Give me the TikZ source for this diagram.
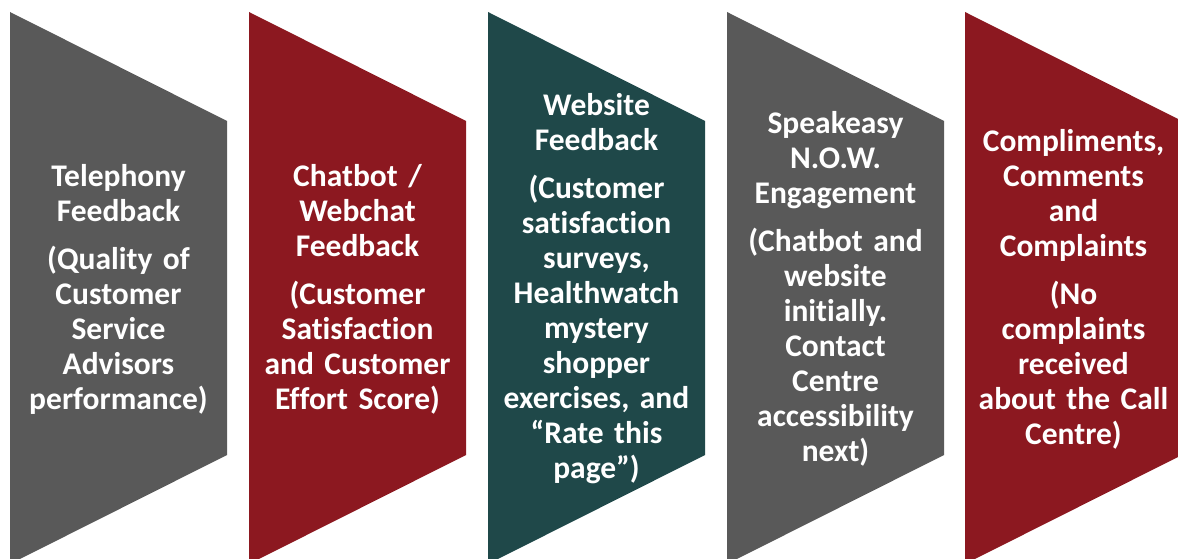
\documentclass[tikz,border=0pt]{standalone}
\usepackage{fontspec}
\setmainfont{Carlito}[WordSpace=0.8, Ligatures=NoCommon]
\begin{document}
\definecolor{slate}{HTML}{595959}
\definecolor{wine}{HTML}{8C1820}
\definecolor{teal}{HTML}{1F4849}
\tikzset{
  label/.style={text=white, font=\fontsize{31.5}{35}\selectfont\bfseries,
    align=center, inner sep=0pt, text width=217pt},
}
\begin{tikzpicture}[x=1pt,y=-1pt]
\useasboundingbox (0,0) rectangle (1178,559);
\clip (0,0) rectangle (1178,559);
% five point-right pentagons, each 217 wide
\fill[slate] (10,12)  -- ++(217,109) -- ++(0,334) -- (10,564)  -- cycle;
\fill[wine]  (249,12) -- ++(217,109) -- ++(0,334) -- (249,564) -- cycle;
\fill[teal]  (488,12) -- ++(217,109) -- ++(0,334) -- (488,564) -- cycle;
\fill[slate] (727,12) -- ++(217,109) -- ++(0,334) -- (727,564) -- cycle;
\fill[wine]  (965,12) -- ++(217,109) -- ++(0,334) -- (965,564) -- cycle;

\node[label] (t1) at (118.5,289) {Telephony\\Feedback\\[13pt](Quality of\\Customer\\Service\\Advisors\\performance)};
\node[label] (t2) at (357.5,289) {Chatbot /\\Webchat\\Feedback\\[13pt](Customer\\Satisfaction\\and Customer\\Effort Score)};
\node[label] (t3) at (596.5,289) {Website\\Feedback\\[13pt](Customer\\satisfaction\\surveys,\\Healthwatch\\mystery\\shopper\\exercises, and\\“Rate this\\page”)};
\node[label] (t4) at (835.5,289) {Speakeasy\\N.O.W.\\Engagement\\[13pt](Chatbot and\\website\\initially.\\Contact\\Centre\\accessibility\\next)};
\node[label] (t5) at (1073.5,289) {Compliments,\\Comments\\and\\Complaints\\[13pt](No\\complaints\\received\\about the Call\\Centre)};
\end{tikzpicture}
\end{document}
